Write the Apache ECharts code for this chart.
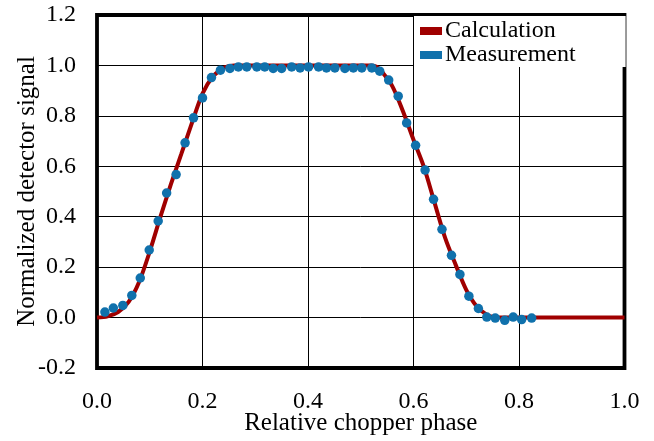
<!DOCTYPE html>
<html>
<head>
<meta charset="utf-8">
<script src="https://cdn.jsdelivr.net/npm/echarts@6/dist/echarts.min.js"></script>
<style>
html,body{margin:0;padding:0;background:#fff;}
#chart{width:654px;height:441px;}
</style>
</head>
<body>
<div id="chart"></div>
<script>
// Calculation curve (relative chopper phase, normalized signal)
const calcX = [0, 0.02, 0.04, 0.06, 0.08, 0.10, 0.12, 0.14, 0.16, 0.18, 0.20, 0.22, 0.24, 0.25, 0.26, 0.52, 0.53, 0.54, 0.56, 0.58, 0.60, 0.62, 0.64, 0.66, 0.68, 0.70, 0.72, 0.74, 0.75, 0.76, 1.0];
const calcY = [0, 0.005, 0.022, 0.062, 0.142, 0.262, 0.398, 0.528, 0.650, 0.772, 0.888, 0.957, 0.990, 0.997, 1.0, 1.0, 0.995, 0.975, 0.917, 0.818, 0.705, 0.596, 0.455, 0.316, 0.209, 0.110, 0.044, 0.010, 0.003, 0, 0];

// Measurement points
const measX = [0.015, 0.031, 0.049, 0.066, 0.082, 0.099, 0.116, 0.132, 0.150, 0.167, 0.183, 0.200, 0.217, 0.234, 0.252, 0.268, 0.284, 0.303, 0.318, 0.334, 0.350, 0.369, 0.385, 0.401, 0.420, 0.435, 0.451, 0.470, 0.486, 0.502, 0.521, 0.536, 0.553, 0.571, 0.587, 0.604, 0.622, 0.638, 0.654, 0.672, 0.688, 0.705, 0.723, 0.739, 0.755, 0.773, 0.789, 0.805, 0.824];
const measY = [0.022, 0.038, 0.048, 0.088, 0.157, 0.268, 0.383, 0.494, 0.567, 0.693, 0.792, 0.871, 0.952, 0.981, 0.988, 0.994, 0.994, 0.994, 0.994, 0.988, 0.988, 0.994, 0.990, 0.994, 0.994, 0.990, 0.990, 0.988, 0.990, 0.990, 0.990, 0.977, 0.942, 0.878, 0.772, 0.683, 0.585, 0.469, 0.350, 0.247, 0.171, 0.085, 0.036, 0.002, -0.002, -0.011, 0.002, -0.008, -0.002];

const xTicks = {min: 0, max: 1.0, interval: 0.2};
const yTicks = {min: -0.2, max: 1.2, interval: 0.2};

const seriesNames = ['Calculation', 'Measurement'];
const xTitle = 'Relative chopper phase';
const yTitle = 'Normalized detector signal';

const FONT = '"Liberation Serif", "Times New Roman", serif';
const RED = '#A00000';
const BLUE = '#1071AC';

const chart = echarts.init(document.getElementById('chart'), null, {renderer: 'canvas'});
chart.setOption({
  animation: false,
  backgroundColor: '#fff',
  textStyle: {fontFamily: FONT},
  grid: {
    left: 97, top: 15, right: 29.5, bottom: 73,
    containLabel: false, outerBoundsMode: 'none',
    show: true, borderColor: '#000', borderWidth: 3.8, backgroundColor: 'transparent'
  },
  legend: {
    data: seriesNames.map((n, i) => ({name: n, icon: 'rect', itemStyle: {color: i === 0 ? RED : BLUE}})),
    orient: 'vertical',
    left: 414, top: 16,
    padding: [3, 50, 0, 6],
    backgroundColor: '#fff',
    itemWidth: 22, itemHeight: 8, itemGap: 0,
    textStyle: {fontFamily: FONT, fontSize: 24, color: '#000', lineHeight: 23.5, padding: [0, 0, 0, -2]}
  },
  xAxis: {
    type: 'value',
    min: xTicks.min, max: xTicks.max, interval: xTicks.interval,
    name: xTitle, nameLocation: 'middle', nameGap: 43, nameMoveOverlap: false,
    nameTextStyle: {fontFamily: FONT, fontSize: 25, color: '#000'},
    axisLine: {show: false}, axisTick: {show: false},
    axisLabel: {fontFamily: FONT, fontSize: 24, color: '#000', margin: 22, formatter: v => v.toFixed(1)},
    splitLine: {show: true, lineStyle: {color: '#000', width: 1}}
  },
  yAxis: {
    type: 'value',
    min: yTicks.min, max: yTicks.max, interval: yTicks.interval,
    name: yTitle, nameLocation: 'middle', nameGap: 57, nameRotate: 90, nameMoveOverlap: false,
    nameTextStyle: {fontFamily: FONT, fontSize: 25, color: '#000'},
    axisLine: {show: false}, axisTick: {show: false},
    axisLabel: {fontFamily: FONT, fontSize: 24, color: '#000', margin: 21, formatter: v => v.toFixed(1)},
    splitLine: {show: true, lineStyle: {color: '#000', width: 1}}
  },
  series: [
    {
      name: seriesNames[0], type: 'line',
      data: calcX.map((x, i) => [x, calcY[i]]),
      showSymbol: false, symbol: 'none', smooth: 0.3,
      lineStyle: {color: RED, width: 4},
      itemStyle: {color: RED},
      z: 2
    },
    {
      name: seriesNames[1], type: 'scatter',
      data: measX.map((x, i) => [x, measY[i]]),
      symbol: 'circle', symbolSize: 9.5,
      itemStyle: {color: BLUE, opacity: 1},
      z: 3
    }
  ]
});
</script>
</body>
</html>
